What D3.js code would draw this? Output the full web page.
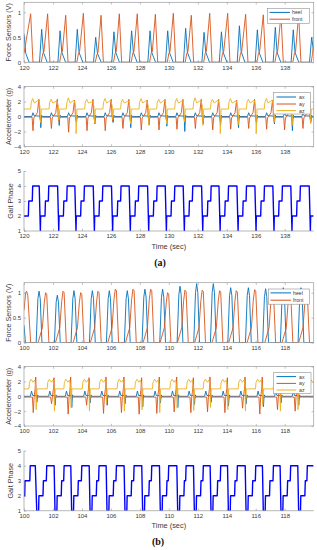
<!DOCTYPE html>
<html><head><meta charset="utf-8">
<script src="https://cdn.jsdelivr.net/npm/d3@7"></script>
<style>body{margin:0;background:#fff}svg{display:block}text{font-family:"Liberation Sans",Arial,sans-serif}</style>
</head><body><svg id="c" width="317" height="550"></svg>
<script>
// ---------- DATA (time in s, value) ----------
const xTicksA = [120,122,124,126,128,130,132,134,136,138];
const xTicksB = [100,102,104,106,108,110,112,114,116,118];
const forceTicks = [0,0.5,1];
const accelTicks = [-4,-2,0,2,4];
const gaitTicks = [1,2,3,4,5];
const forceLabels = ["heel","front"];
const accelLabels = ["ax","ay","az"];

const heelA = [120,0.57,120.12,0.18,120.35,0,
121.07,0,121.22,0.66,121.34,0.2,121.60,0,
122.34,0,122.49,0.63,122.61,0.2,122.87,0,
123.53,0,123.68,0.66,123.80,0.2,124.06,0,
124.80,0,124.95,0.50,125.07,0.18,125.33,0,
126.06,0,126.21,0.61,126.33,0.2,126.59,0,
127.28,0,127.43,0.63,127.55,0.2,127.81,0,
128.55,0,128.70,0.63,128.82,0.2,129.08,0,
129.77,0,129.92,0.63,130.04,0.2,130.30,0,
131.01,0,131.16,0.68,131.28,0.2,131.54,0,
132.28,0,132.43,0.60,132.55,0.2,132.81,0,
133.48,0,133.63,0.61,133.75,0.2,134.01,0,
134.72,0,134.87,0.73,134.99,0.22,135.25,0,
135.96,0,136.11,0.65,136.23,0.2,136.49,0,
137.20,0,137.35,0.70,137.47,0.2,137.73,0,
138.44,0,138.59,0.65,138.71,0.2,138.97,0,
139.71,0,139.86,0.50,139.99,0.22];

const frontA = [120,0.18,120.46,0.97,120.62,0,
121.19,0,121.30,0.18,121.38,0.22,121.63,0.97,121.79,0,
122.46,0,122.57,0.18,122.65,0.22,122.88,0.94,123.04,0,
123.65,0,123.76,0.18,123.84,0.22,124.10,0.98,124.26,0,
124.92,0,125.03,0.15,125.11,0.2,125.32,0.94,125.48,0,
126.18,0,126.29,0.18,126.37,0.22,126.58,0.97,126.74,0,
127.40,0,127.51,0.18,127.59,0.22,127.82,0.97,127.98,0,
128.67,0,128.78,0.18,128.86,0.22,129.07,0.96,129.23,0,
129.89,0,130.00,0.18,130.08,0.22,130.31,0.98,130.47,0,
131.13,0,131.24,0.18,131.32,0.22,131.55,0.94,131.71,0,
132.40,0,132.51,0.18,132.59,0.22,132.82,0.98,132.98,0,
133.60,0,133.71,0.18,133.79,0.22,134.06,0.98,134.22,0,
134.84,0,134.95,0.18,135.03,0.22,135.30,0.96,135.46,0,
136.08,0,136.19,0.18,136.27,0.22,136.52,0.95,136.68,0,
137.32,0,137.43,0.18,137.51,0.22,137.74,0.96,137.90,0,
138.56,0,138.67,0.18,138.75,0.22,138.96,0.96,139.12,0,
139.83,0,139.92,0.18,139.99,0.35];

const axA = [120,0,
120.54,0,120.62,0.5,120.70,0.1,121.12,0.05,121.16,-1.5,121.21,0.2,121.26,0,
121.81,0,121.89,0.5,121.97,0.1,122.39,0.05,122.43,-1.2,122.48,0.2,122.53,0,
123.00,0,123.08,0.5,123.16,0.1,123.58,0.05,123.62,-0.8,123.67,0.2,123.72,0,
124.27,0,124.35,0.5,124.43,0.1,124.85,0.05,124.89,-1.0,124.94,0.2,124.99,0,
125.53,0,125.61,0.5,125.69,0.1,126.11,0.05,126.15,-0.8,126.20,0.2,126.25,0,
126.75,0,126.83,0.5,126.91,0.1,127.33,0.05,127.37,-1.5,127.42,0.2,127.47,0,
128.02,0,128.10,0.5,128.18,0.1,128.60,0.05,128.64,-1.1,128.69,0.2,128.74,0,
129.24,0,129.32,0.5,129.40,0.1,129.82,0.05,129.86,-1.3,129.91,0.2,129.96,0,
130.48,0,130.56,0.5,130.64,0.1,131.06,0.05,131.10,-2.0,131.15,0.2,131.20,0,
131.75,0,131.83,0.5,131.91,0.1,132.33,0.05,132.37,-1.0,132.42,0.2,132.47,0,
132.95,0,133.03,0.5,133.11,0.1,133.53,0.05,133.57,-1.2,133.62,0.2,133.67,0,
134.19,0,134.27,0.5,134.35,0.1,134.77,0.05,134.81,-1.5,134.86,0.2,134.91,0,
135.43,0,135.51,0.5,135.59,0.1,136.01,0.05,136.05,-1.0,136.10,0.2,136.15,0,
136.67,0,136.75,0.5,136.83,0.1,137.25,0.05,137.29,-1.0,137.34,0.2,137.39,0,
137.91,0,137.99,0.5,138.07,0.1,138.49,0.05,138.53,-1.9,138.58,0.2,138.63,0,
139.18,0,139.26,0.5,139.34,0.1,139.76,0.05,139.80,-0.8,139.85,0.2,139.90,0,
139.99,0];

const ayA = [120,-0.1,
120.56,-0.1,120.62,-1.9,120.68,-0.2,120.92,0.5,121.03,2.3,121.09,0,121.14,-0.6,121.20,-0.1,
121.83,-0.1,121.89,-1.6,121.95,-0.2,122.19,0.5,122.30,2.3,122.36,0,122.41,-0.6,122.47,-0.1,
123.02,-0.1,123.08,-2.1,123.14,-0.2,123.38,0.5,123.49,2.2,123.55,0,123.60,-0.6,123.66,-0.1,
124.29,-0.1,124.35,-1.9,124.41,-0.2,124.65,0.5,124.76,2.3,124.82,0,124.87,-0.6,124.93,-0.1,
125.55,-0.1,125.61,-1.9,125.67,-0.2,125.91,0.5,126.02,2.3,126.08,0,126.13,-0.6,126.19,-0.1,
126.77,-0.1,126.83,-1.6,126.89,-0.2,127.13,0.5,127.24,2.3,127.30,0,127.35,-0.6,127.41,-0.1,
128.04,-0.1,128.10,-1.8,128.16,-0.2,128.40,0.5,128.51,2.2,128.57,0,128.62,-0.6,128.68,-0.1,
129.26,-0.1,129.32,-1.8,129.38,-0.2,129.62,0.5,129.73,2.3,129.79,0,129.84,-0.6,129.90,-0.1,
130.50,-0.1,130.56,-1.7,130.62,-0.2,130.86,0.5,130.97,2.3,131.03,0,131.08,-0.6,131.14,-0.1,
131.77,-0.1,131.83,-1.6,131.89,-0.2,132.13,0.5,132.24,2.3,132.30,0,132.35,-0.6,132.41,-0.1,
132.97,-0.1,133.03,-1.8,133.09,-0.2,133.33,0.5,133.44,2.3,133.50,0,133.55,-0.6,133.61,-0.1,
134.21,-0.1,134.27,-1.7,134.33,-0.2,134.57,0.5,134.68,2.2,134.74,0,134.79,-0.6,134.85,-0.1,
135.45,-0.1,135.51,-1.6,135.57,-0.2,135.81,0.5,135.92,2.3,135.98,0,136.03,-0.6,136.09,-0.1,
136.69,-0.1,136.75,-1.7,136.81,-0.2,137.05,0.5,137.16,2.2,137.22,0,137.27,-0.6,137.33,-0.1,
137.93,-0.1,137.99,-1.8,138.05,-0.2,138.29,0.5,138.40,2.3,138.46,0,138.51,-0.6,138.57,-0.1,
139.20,-0.1,139.26,-1.6,139.32,-0.2,139.56,0.5,139.67,2.2,139.73,0,139.78,-0.6,139.84,-0.1,
139.99,-0.1];

const azA = [120,1,
120.46,1,120.50,1.9,120.60,2.4,120.72,1.8,121.00,2.2,121.10,1.4,121.14,-0.8,121.20,1,
121.73,1,121.77,1.9,121.87,2.3,121.99,1.8,122.27,2.1,122.37,1.4,122.41,-0.5,122.47,1,
122.92,1,122.96,1.9,123.06,2.5,123.18,1.8,123.46,2.2,123.56,1.4,123.60,-2.3,123.66,1,
124.19,1,124.23,1.9,124.33,2.3,124.45,1.8,124.73,2.0,124.83,1.4,124.87,-0.9,124.93,1,
125.45,1,125.49,1.9,125.59,2.4,125.71,1.8,125.99,2.2,126.09,1.4,126.13,-0.4,126.19,1,
126.67,1,126.71,1.9,126.81,2.3,126.93,1.8,127.21,2.1,127.31,1.4,127.35,-1.0,127.41,1,
127.94,1,127.98,1.9,128.08,2.4,128.20,1.8,128.48,2.2,128.58,1.4,128.62,-1.2,128.68,1,
129.16,1,129.20,1.9,129.30,2.3,129.42,1.8,129.70,2.2,129.80,1.4,129.84,-1.0,129.90,1,
130.40,1,130.44,1.9,130.54,2.4,130.66,1.8,130.94,2.1,131.04,1.4,131.08,-0.7,131.14,1,
131.67,1,131.71,1.9,131.81,2.5,131.93,1.8,132.21,2.2,132.31,1.4,132.35,-1.2,132.41,1,
132.87,1,132.91,1.9,133.01,2.3,133.13,1.8,133.41,2.2,133.51,1.4,133.55,-2.3,133.61,1,
134.11,1,134.15,1.9,134.25,2.4,134.37,1.8,134.65,2.1,134.75,1.4,134.79,-1.1,134.85,1,
135.35,1,135.39,1.9,135.49,2.3,135.61,1.8,135.89,2.2,135.99,1.4,136.03,-2.3,136.09,1,
136.59,1,136.63,1.9,136.73,2.4,136.85,1.8,137.13,2.2,137.23,1.4,137.27,-0.8,137.33,1,
137.83,1,137.87,1.9,137.97,2.3,138.09,1.8,138.37,2.1,138.47,1.4,138.51,-1.2,138.57,1,
139.10,1,139.14,1.9,139.24,2.4,139.36,1.8,139.64,2.2,139.74,1.4,139.78,-1.0,139.84,1,
139.99,1];

const gaitA = [120,2,120.30,2,120.33,3,120.57,3,120.60,4,121.05,4,
121.13,1,121.15,2,121.45,2,121.48,3,121.68,3,121.71,4,122.32,4,
122.40,1,122.42,2,122.72,2,122.75,3,122.95,3,122.98,4,123.51,4,
123.59,1,123.61,2,123.91,2,123.94,3,124.14,3,124.17,4,124.78,4,
124.86,1,124.88,2,125.18,2,125.21,3,125.41,3,125.44,4,126.04,4,
126.12,1,126.14,2,126.44,2,126.47,3,126.67,3,126.70,4,127.26,4,
127.34,1,127.36,2,127.66,2,127.69,3,127.89,3,127.92,4,128.53,4,
128.61,1,128.63,2,128.93,2,128.96,3,129.16,3,129.19,4,129.75,4,
129.83,1,129.85,2,130.15,2,130.18,3,130.38,3,130.41,4,130.99,4,
131.07,1,131.09,2,131.39,2,131.42,3,131.62,3,131.65,4,132.26,4,
132.34,1,132.36,2,132.66,2,132.69,3,132.89,3,132.92,4,133.46,4,
133.54,1,133.56,2,133.86,2,133.89,3,134.09,3,134.12,4,134.70,4,
134.78,1,134.80,2,135.10,2,135.13,3,135.33,3,135.36,4,135.94,4,
136.02,1,136.04,2,136.34,2,136.37,3,136.57,3,136.60,4,137.18,4,
137.26,1,137.28,2,137.58,2,137.61,3,137.81,3,137.84,4,138.42,4,
138.50,1,138.52,2,138.82,2,138.85,3,139.05,3,139.08,4,139.69,4,
139.77,1,139.79,2,139.99,2];

const heelB = [100,0.35,100.1,0,
100.84,0,100.96,0.88,101.04,1.03,101.12,0.88,101.24,0,
102.10,0,102.22,0.81,102.30,0.95,102.38,0.81,102.50,0,
103.25,0,103.37,0.88,103.45,1.04,103.53,0.88,103.65,0,
104.52,0,104.64,0.88,104.72,1.04,104.80,0.88,104.92,0,
105.69,0,105.81,0.88,105.89,1.04,105.97,0.88,106.09,0,
106.93,0,107.05,0.88,107.13,1.04,107.21,0.88,107.33,0,
108.15,0,108.27,0.91,108.35,1.07,108.43,0.91,108.55,0,
109.37,0,109.49,0.91,109.57,1.07,109.65,0.91,109.77,0,
110.57,0,110.69,0.96,110.77,1.13,110.85,0.96,110.97,0,
111.72,0,111.84,1.0,111.92,1.18,112.00,1.0,112.12,0,
112.87,0,112.99,1.0,113.07,1.18,113.15,1.0,113.27,0,
114.07,0,114.19,0.94,114.27,1.10,114.35,0.94,114.47,0,
115.29,0,115.41,0.94,115.49,1.10,115.57,0.94,115.69,0,
116.48,0,116.60,0.92,116.68,1.08,116.76,0.92,116.88,0,
117.70,0,117.82,0.94,117.90,1.10,117.98,0.94,118.10,0,
118.92,0,119.04,0.94,119.12,1.10,119.20,0.94,119.32,0,
119.99,0];

const frontB = [100,0.65,100.12,1.0,100.18,1.03,100.26,0.95,100.46,0,
100.97,0,101.27,0.3,101.40,0.8,101.49,1.0,101.57,0.97,101.72,0,
102.17,0,102.47,0.3,102.60,0.82,102.69,1.03,102.77,1.0,102.92,0,
103.39,0,103.69,0.3,103.82,0.8,103.91,1.0,103.99,0.97,104.14,0,
104.58,0,104.88,0.3,105.01,0.82,105.10,1.03,105.18,1.0,105.33,0,
105.78,0,106.08,0.3,106.21,0.86,106.30,1.07,106.38,1.04,106.53,0,
107.00,0,107.30,0.3,107.43,0.86,107.52,1.07,107.60,1.04,107.75,0,
108.22,0,108.52,0.3,108.65,0.86,108.74,1.07,108.82,1.04,108.97,0,
109.39,0,109.69,0.3,109.82,0.8,109.91,1.0,109.99,0.97,110.14,0,
110.59,0,110.89,0.3,111.02,0.84,111.11,1.05,111.19,1.02,111.34,0,
111.78,0,112.08,0.3,112.21,0.84,112.30,1.05,112.38,1.02,112.53,0,
112.98,0,113.28,0.3,113.41,0.83,113.50,1.04,113.58,1.01,113.73,0,
114.13,0,114.43,0.3,114.56,0.83,114.65,1.04,114.73,1.01,114.88,0,
115.40,0,115.70,0.3,115.83,0.85,115.92,1.06,116.00,1.03,116.15,0,
116.62,0,116.92,0.3,117.05,0.85,117.14,1.06,117.22,1.03,117.37,0,
117.81,0,118.11,0.3,118.24,0.83,118.33,1.04,118.41,1.01,118.56,0,
118.96,0,119.26,0.3,119.39,0.8,119.48,1.0,119.56,0.97,119.71,0,
119.99,0];

const axB = [100,0,
100.44,0,100.52,0.7,100.60,0.1,100.84,0.1,100.89,-0.8,100.94,0.2,100.99,0,
101.70,0,101.78,0.7,101.86,0.1,102.10,0.1,102.15,-1.2,102.20,0.2,102.25,0,
102.85,0,102.93,0.7,103.01,0.1,103.25,0.1,103.30,-1.5,103.35,0.2,103.40,0,
104.12,0,104.20,0.7,104.28,0.1,104.52,0.1,104.57,-0.9,104.62,0.2,104.67,0,
105.29,0,105.37,0.7,105.45,0.1,105.69,0.1,105.74,-1.2,105.79,0.2,105.84,0,
106.53,0,106.61,0.7,106.69,0.1,106.93,0.1,106.98,-1.0,107.03,0.2,107.08,0,
107.75,0,107.83,0.7,107.91,0.1,108.15,0.1,108.20,-1.4,108.25,0.2,108.30,0,
108.97,0,109.05,0.7,109.13,0.1,109.37,0.1,109.42,-0.9,109.47,0.2,109.52,0,
110.17,0,110.25,0.7,110.33,0.1,110.57,0.1,110.62,-1.5,110.67,0.2,110.72,0,
111.32,0,111.40,0.7,111.48,0.1,111.72,0.1,111.77,-1.1,111.82,0.2,111.87,0,
112.47,0,112.55,0.7,112.63,0.1,112.87,0.1,112.92,-0.8,112.97,0.2,113.02,0,
113.67,0,113.75,0.7,113.83,0.1,114.07,0.1,114.12,-1.3,114.17,0.2,114.22,0,
114.89,0,114.97,0.7,115.05,0.1,115.29,0.1,115.34,-1.0,115.39,0.2,115.44,0,
116.08,0,116.16,0.7,116.24,0.1,116.48,0.1,116.53,-1.4,116.58,0.2,116.63,0,
117.30,0,117.38,0.7,117.46,0.1,117.70,0.1,117.75,-0.9,117.80,0.2,117.85,0,
118.52,0,118.60,0.7,118.68,0.1,118.92,0.1,118.97,-1.2,119.02,0.2,119.07,0,
119.99,0];

const ayB = [100,-0.1,
100.58,-0.1,100.64,-2.2,100.70,-0.1,100.77,1.0,100.81,2.6,100.85,0,100.89,-0.3,100.94,-0.1,
101.84,-0.1,101.90,-1.0,101.96,-0.1,102.03,1.0,102.07,2.5,102.11,0,102.15,-0.3,102.20,-0.1,
102.99,-0.1,103.05,-2.4,103.11,-0.1,103.18,1.0,103.22,2.6,103.26,0,103.30,-0.3,103.35,-0.1,
104.26,-0.1,104.32,-1.2,104.38,-0.1,104.45,1.0,104.49,2.5,104.53,0,104.57,-0.3,104.62,-0.1,
105.43,-0.1,105.49,-2.3,105.55,-0.1,105.62,1.0,105.66,2.6,105.70,0,105.74,-0.3,105.79,-0.1,
106.67,-0.1,106.73,-2.2,106.79,-0.1,106.86,1.0,106.90,2.6,106.94,0,106.98,-0.3,107.03,-0.1,
107.89,-0.1,107.95,-2.4,108.01,-0.1,108.08,1.0,108.12,2.5,108.16,0,108.20,-0.3,108.25,-0.1,
109.11,-0.1,109.17,-2.3,109.23,-0.1,109.30,1.0,109.34,2.6,109.38,0,109.42,-0.3,109.47,-0.1,
110.31,-0.1,110.37,-2.1,110.43,-0.1,110.50,1.0,110.54,2.6,110.58,0,110.62,-0.3,110.67,-0.1,
111.46,-0.1,111.52,-2.2,111.58,-0.1,111.65,1.0,111.69,2.5,111.73,0,111.77,-0.3,111.82,-0.1,
112.61,-0.1,112.67,-2.1,112.73,-0.1,112.80,1.0,112.84,2.6,112.88,0,112.92,-0.3,112.97,-0.1,
113.81,-0.1,113.87,-2.2,113.93,-0.1,114.00,1.0,114.04,2.5,114.08,0,114.12,-0.3,114.17,-0.1,
115.03,-0.1,115.09,-1.6,115.15,-0.1,115.22,1.0,115.26,2.6,115.30,0,115.34,-0.3,115.39,-0.1,
116.22,-0.1,116.28,-2.4,116.34,-0.1,116.41,1.0,116.45,2.6,116.49,0,116.53,-0.3,116.58,-0.1,
117.44,-0.1,117.50,-1.8,117.56,-0.1,117.63,1.0,117.67,2.5,117.71,0,117.75,-0.3,117.80,-0.1,
118.66,-0.1,118.72,-2.0,118.78,-0.1,118.85,1.0,118.89,2.6,118.93,0,118.97,-0.3,119.02,-0.1,
119.99,-0.1];

const azB = [100,1,
100.34,1,100.38,1.9,100.49,2.3,100.62,1.9,100.74,2.2,100.80,1.5,100.84,-1.8,100.90,1,
101.60,1,101.64,1.9,101.75,2.3,101.88,1.9,102.00,2.2,102.06,1.5,102.10,-2.0,102.16,1,
102.75,1,102.79,1.9,102.90,2.3,103.03,1.9,103.15,2.2,103.21,1.5,103.25,-1.5,103.31,1,
104.02,1,104.06,1.9,104.17,2.3,104.30,1.9,104.42,2.2,104.48,1.5,104.52,-2.0,104.58,1,
105.19,1,105.23,1.9,105.34,2.3,105.47,1.9,105.59,2.2,105.65,1.5,105.69,-1.0,105.75,1,
106.43,1,106.47,1.9,106.58,2.3,106.71,1.9,106.83,2.2,106.89,1.5,106.93,-2.0,106.99,1,
107.65,1,107.69,1.9,107.80,2.3,107.93,1.9,108.05,2.2,108.11,1.5,108.15,-1.8,108.21,1,
108.87,1,108.91,1.9,109.02,2.3,109.15,1.9,109.27,2.2,109.33,1.5,109.37,-2.2,109.43,1,
110.07,1,110.11,1.9,110.22,2.3,110.35,1.9,110.47,2.2,110.53,1.5,110.57,-1.6,110.63,1,
111.22,1,111.26,1.9,111.37,2.3,111.50,1.9,111.62,2.2,111.68,1.5,111.72,-1.9,111.78,1,
112.37,1,112.41,1.9,112.52,2.3,112.65,1.9,112.77,2.2,112.83,1.5,112.87,-1.5,112.93,1,
113.57,1,113.61,1.9,113.72,2.3,113.85,1.9,113.97,2.2,114.03,1.5,114.07,-1.8,114.13,1,
114.79,1,114.83,1.9,114.94,2.3,115.07,1.9,115.19,2.2,115.25,1.5,115.29,-2.0,115.35,1,
115.98,1,116.02,1.9,116.13,2.3,116.26,1.9,116.38,2.2,116.44,1.5,116.48,-1.2,116.54,1,
117.20,1,117.24,1.9,117.35,2.3,117.48,1.9,117.60,2.2,117.66,1.5,117.70,-2.0,117.76,1,
118.42,1,118.46,1.9,118.57,2.3,118.70,1.9,118.82,2.2,118.88,1.5,118.92,-1.8,118.98,1,
119.64,1,119.68,1.9,119.79,2.3,119.92,1.9,119.99,2.0];

const gaitB = [100,2,100.05,2,100.07,3,100.40,3,100.43,4,100.78,4,
100.88,1,101.01,1,101.03,2,101.31,2,101.34,3,101.54,3,101.57,4,102.08,4,
102.14,1,102.27,1,102.29,2,102.57,2,102.60,3,102.74,3,102.77,4,103.23,4,
103.29,1,103.42,1,103.44,2,103.72,2,103.75,3,103.96,3,103.99,4,104.50,4,
104.56,1,104.69,1,104.71,2,104.99,2,105.02,3,105.15,3,105.18,4,105.67,4,
105.73,1,105.86,1,105.88,2,106.16,2,106.19,3,106.35,3,106.38,4,106.91,4,
106.97,1,107.10,1,107.12,2,107.40,2,107.43,3,107.57,3,107.60,4,108.13,4,
108.19,1,108.32,1,108.34,2,108.62,2,108.65,3,108.79,3,108.82,4,109.35,4,
109.41,1,109.54,1,109.56,2,109.84,2,109.87,3,109.96,3,109.99,4,110.55,4,
110.61,1,110.74,1,110.76,2,111.04,2,111.07,3,111.16,3,111.19,4,111.70,4,
111.76,1,111.89,1,111.91,2,112.19,2,112.22,3,112.35,3,112.38,4,112.85,4,
112.91,1,113.04,1,113.06,2,113.34,2,113.37,3,113.55,3,113.58,4,114.05,4,
114.11,1,114.24,1,114.26,2,114.54,2,114.57,3,114.70,3,114.73,4,115.27,4,
115.33,1,115.46,1,115.48,2,115.76,2,115.79,3,115.97,3,116.00,4,116.46,4,
116.52,1,116.65,1,116.67,2,116.95,2,116.98,3,117.19,3,117.22,4,117.68,4,
117.74,1,117.87,1,117.89,2,118.17,2,118.20,3,118.38,3,118.41,4,118.90,4,
118.96,1,119.09,1,119.11,2,119.39,2,119.42,3,119.53,3,119.56,4,119.99,4];

// ---------- DRAWING ----------
const C_BLUE="#0072BD", C_ORANGE="#D95319", C_YELLOW="#EDB120", C_GAIT="#0000FF";
const AX="#9a9a9a", TXT="#3a3a3a";
const pairs = a => { const r=[]; for(let i=0;i<a.length;i+=2) r.push([a[i],a[i+1]]); return r; };
const svg = d3.select("#c");
const X0=24, X1=313.7;
let clipId=0;

function panel(o){
  const x = d3.scaleLinear().domain(o.xd).range([X0,X1]);
  const y = d3.scaleLinear().domain(o.yd).range([o.bot,o.top]);
  const g = svg.append("g");
  const id="clip"+(clipId++);
  g.append("clipPath").attr("id",id).append("rect")
    .attr("x",X0).attr("y",o.top).attr("width",X1-X0).attr("height",o.bot-o.top);
  const fmt = d3.format("~g");
  const xa = d3.axisBottom(x).tickValues(o.xt).tickSizeInner(-2.2).tickSizeOuter(0).tickPadding(3.2).tickFormat(fmt);
  const gx = g.append("g").attr("transform",`translate(0,${o.bot})`).call(xa);
  const ya = d3.axisLeft(y).tickValues(o.yt).tickSizeInner(-2.2).tickSizeOuter(0).tickPadding(3).tickFormat(fmt);
  const gy = g.append("g").attr("transform",`translate(${X0},0)`).call(ya);
  [gx,gy].forEach(a=>{
    a.select(".domain").remove();
    a.selectAll(".tick line").attr("stroke",AX).attr("stroke-width",0.6);
    a.selectAll("text").attr("fill",TXT).style("font-size","6px").attr("font-family","Liberation Sans, Arial, sans-serif");
  });
  if(o.box){
    const xt = d3.axisTop(x).tickValues(o.xt).tickSizeInner(-2.2).tickSizeOuter(0).tickFormat("");
    const gt = g.append("g").attr("transform",`translate(0,${o.top})`).call(xt);
    const yr = d3.axisRight(y).tickValues(o.yt).tickSizeInner(-2.2).tickSizeOuter(0).tickFormat("");
    const gr = g.append("g").attr("transform",`translate(${X1},0)`).call(yr);
    [gt,gr].forEach(a=>{a.select(".domain").remove();a.selectAll(".tick line").attr("stroke",AX).attr("stroke-width",0.6);});
  }
  const line = d3.line().x(d=>x(d[0])).y(d=>y(d[1]));
  const lg = g.append("g").attr("clip-path",`url(#${id})`);
  o.series.forEach(s=>{
    lg.append("path").datum(pairs(s.data)).attr("d",line)
      .attr("fill","none").attr("stroke",s.color).attr("stroke-width",s.w||0.9)
      .attr("stroke-linejoin","round");
  });
  if(o.box){
    g.append("rect").attr("x",X0).attr("y",o.top).attr("width",X1-X0).attr("height",o.bot-o.top)
      .attr("fill","none").attr("stroke",AX).attr("stroke-width",0.7);
  } else {
    g.append("path").attr("d",`M${X0},${o.top}V${o.bot}H${X1}`).attr("fill","none").attr("stroke",AX).attr("stroke-width",0.7);
  }
  g.append("text").attr("transform",`translate(${o.ylx},${(o.top+o.bot)/2}) rotate(-90)`)
    .attr("text-anchor","middle").attr("dominant-baseline","central")
    .style("font-size","7.2px").attr("fill",TXT).text(o.ylabel);
  if(o.xlabel){
    g.append("text").attr("x",(X0+X1)/2).attr("y",o.bot+17.5).attr("text-anchor","middle")
      .style("font-size","7.4px").attr("fill",TXT).text(o.xlabel);
  }
  if(o.legend){
    const L=o.legend;
    g.append("rect").attr("x",L.x0).attr("y",L.y0).attr("width",L.x1-L.x0).attr("height",L.y1-L.y0)
      .attr("fill","#fff").attr("stroke","#8f8f8f").attr("stroke-width",0.6);
    L.names.forEach((n,i)=>{
      const yy=L.ys[i];
      g.append("line").attr("x1",L.lx0).attr("x2",L.lx1).attr("y1",yy).attr("y2",yy)
        .attr("stroke",o.series[i].color).attr("stroke-width",1);
      g.append("text").attr("x",L.tx).attr("y",yy).attr("dominant-baseline","central")
        .style("font-size","5.2px").attr("fill",TXT).text(n);
    });
  }
}

// (a)
panel({xd:[120,140],yd:[0,1.2],top:2.3,bot:62.3,xt:xTicksA,yt:forceTicks,box:true,ylx:8.5,ylabel:"Force Sensors (V)",
  series:[{data:heelA,color:C_BLUE},{data:frontA,color:C_ORANGE}],
  legend:{x0:267.3,x1:309.5,y0:8.3,y1:23.5,lx0:269.5,lx1:290,tx:292,ys:[12.4,19.2],names:forceLabels}});
panel({xd:[120,140],yd:[-4,4],top:86.6,bot:146.4,xt:xTicksA,yt:accelTicks,box:true,ylx:8.8,ylabel:"Accelerometer (g)",
  series:[{data:axA,color:C_BLUE},{data:ayA,color:C_ORANGE},{data:azA,color:C_YELLOW}],
  legend:{x0:273.3,x1:310.5,y0:92.6,y1:114,lx0:276.5,lx1:296,tx:299,ys:[97,104,110.6],names:accelLabels}});
panel({xd:[120,140],yd:[1,5],top:171,bot:231,xt:xTicksA,yt:gaitTicks,box:false,ylx:10.6,ylabel:"Gait Phase",xlabel:"Time (sec)",
  series:[{data:gaitA,color:C_GAIT,w:1.4}]});
svg.append("text").attr("x",160).attr("y",265.5).attr("text-anchor","middle")
  .style("font-family","'Liberation Serif','DejaVu Serif',serif").style("font-size","10px").style("font-weight","bold").attr("fill","#111").text("(a)");

// (b)
panel({xd:[100,120],yd:[0,1.2],top:282.7,bot:342.7,xt:xTicksB,yt:forceTicks,box:true,ylx:8.5,ylabel:"Force Sensors (V)",
  series:[{data:heelB,color:C_BLUE},{data:frontB,color:C_ORANGE}],
  legend:{x0:268.3,x1:309.5,y0:289,y1:304.2,lx0:270.5,lx1:291,tx:293,ys:[292.9,300.2],names:forceLabels}});
panel({xd:[100,120],yd:[-4,4],top:366.6,bot:426,xt:xTicksB,yt:accelTicks,box:true,ylx:8.8,ylabel:"Accelerometer (g)",
  series:[{data:axB,color:C_BLUE},{data:ayB,color:C_ORANGE},{data:azB,color:C_YELLOW}],
  legend:{x0:273.3,x1:311,y0:372.7,y1:393.5,lx0:276.5,lx1:296,tx:299,ys:[376.6,383.4,390],names:accelLabels}});
panel({xd:[100,120],yd:[1,5],top:450.7,bot:510.7,xt:xTicksB,yt:gaitTicks,box:false,ylx:10.6,ylabel:"Gait Phase",xlabel:"Time (sec)",
  series:[{data:gaitB,color:C_GAIT,w:1.4}]});
svg.append("text").attr("x",158).attr("y",545).attr("text-anchor","middle")
  .style("font-family","'Liberation Serif','DejaVu Serif',serif").style("font-size","10px").style("font-weight","bold").attr("fill","#111").text("(b)");
</script></body></html>
